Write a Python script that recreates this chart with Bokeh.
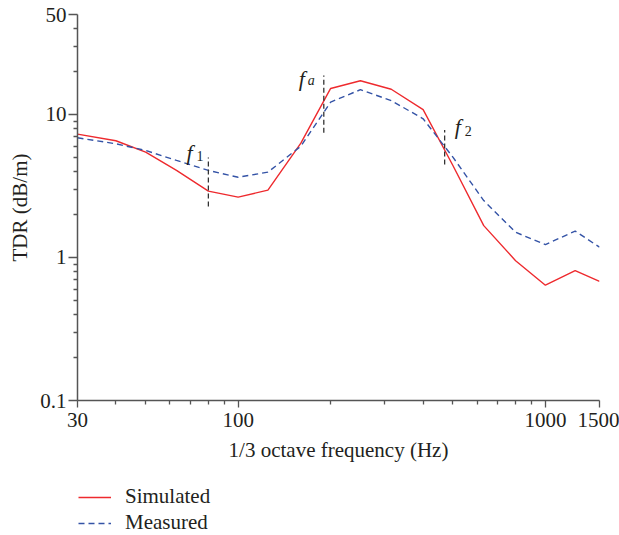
from bokeh.plotting import figure
from bokeh.layouts import column
from bokeh.models import Range1d, FixedTicker, CustomJSTickFormatter, Legend, LegendItem
from bokeh.core.properties import value
from bokeh.embed import file_html
from bokeh.resources import INLINE

freq = [30, 40, 50, 63, 80, 100, 125, 160, 200, 250, 315, 400, 500, 630, 800, 1000, 1250, 1500]
simulated = [7.28, 6.55, 5.45, 4.06, 2.91, 2.64, 2.96, 6.3, 15.2, 17.2, 15.0, 10.8, 4.4, 1.67, 0.95, 0.64, 0.81, 0.68]
measured = [6.87, 6.24, 5.6, 4.77, 4.06, 3.64, 3.95, 6.0, 12.2, 14.9, 12.5, 9.33, 5.03, 2.5, 1.5, 1.23, 1.53, 1.18]

marker_freq = [80, 190, 470]
marker_lo = [2.27, 7.45, 4.47]
marker_hi = [5.0, 18.7, 7.8]
marker_sub = ["1", "a", "2"]

series_names = ["Simulated", "Measured"]

x_ticks = [30, 100, 1000, 1500]
x_minor = [40, 50, 60, 70, 80, 90, 200, 300, 400, 500, 600, 700, 800, 900]
y_ticks = [0.1, 1, 10, 50]
y_minor = [0.2, 0.3, 0.4, 0.5, 0.6, 0.7, 0.8, 0.9, 2, 3, 4, 5, 6, 7, 8, 9, 20, 30, 40]

FONT = "Liberation Serif"
AX = "#555555"
TXT = "#231f20"
RED = "#ee2a2e"
BLUE = "#3453a6"

p = figure(frame_width=522, frame_height=386, x_axis_type="log", y_axis_type="log",
           x_range=Range1d(30, 1500), y_range=Range1d(0.1, 50),
           output_backend="svg", toolbar_location=None,
           min_border_left=77, min_border_right=20, min_border_top=14, min_border_bottom=80)
p.outline_line_color = None
p.xgrid.visible = False
p.ygrid.visible = False

fmt = CustomJSTickFormatter(code="return String(tick);")
for ax, ticks, minor in ((p.xaxis[0], x_ticks, x_minor), (p.yaxis[0], y_ticks, y_minor)):
    ax.ticker = FixedTicker(ticks=ticks, minor_ticks=minor)
    ax.formatter = fmt
    ax.axis_line_color = AX
    ax.axis_line_width = 1.5
    ax.major_tick_line_color = AX
    ax.minor_tick_line_color = AX
    ax.major_tick_line_width = 1.3
    ax.minor_tick_line_width = 1.3
    ax.major_tick_in = 0
    ax.minor_tick_in = 0
    ax.major_label_text_font = FONT
    ax.major_label_text_font_size = "21px"
    ax.major_label_text_color = TXT
    ax.axis_label_text_font = FONT
    ax.axis_label_text_font_style = "normal"
    ax.axis_label_text_color = TXT

p.xaxis.major_tick_out = 7
p.xaxis.minor_tick_out = 4
p.xaxis.major_label_standoff = 5
p.xaxis.axis_label = "1/3 octave frequency (Hz)"
p.xaxis.axis_label_text_font_size = "21px"
p.xaxis.axis_label_standoff = 8
p.yaxis.major_tick_out = 9
p.yaxis.minor_tick_out = 4
p.yaxis.major_label_standoff = 2
p.yaxis.axis_label = "TDR (dB/m)"
p.yaxis.axis_label_text_font_size = "21px"
p.yaxis.axis_label_standoff = 5

p.line(freq, simulated, line_color=RED, line_width=1.4)
p.line(freq, measured, line_color=BLUE, line_width=1.4, line_dash="6 4")

p.segment(x0=marker_freq, y0=marker_lo, x1=marker_freq, y1=marker_hi,
          line_color="#333333", line_width=1.3, line_dash="5 3")

# f labels (italic f with subscripts), pixel offsets from each marker's top
f_dx = [-22, -25, 10]
f_dy = [-5, 3, -3]
s_dx = [-12, -16, 20]
s_dy = [-2, 5, 1]
for i in range(3):
    p.text(x=[marker_freq[i]], y=[marker_hi[i]], text=["f"], x_offset=f_dx[i], y_offset=f_dy[i],
           text_font=value(FONT), text_font_style="italic", text_font_size="22px",
           text_color=TXT, text_baseline="alphabetic", text_align="left")
    p.text(x=[marker_freq[i]], y=[marker_hi[i]], text=[marker_sub[i]], x_offset=s_dx[i], y_offset=s_dy[i],
           text_font=value(FONT), text_font_style="italic" if marker_sub[i] == "a" else "normal",
           text_font_size="14px", text_color=TXT, text_baseline="alphabetic", text_align="left")

# legend in a strip below the chart (proxy lines lie outside this strip's view)
lg = figure(width=619, height=55, output_backend="svg", toolbar_location=None,
            x_range=Range1d(0, 1), y_range=Range1d(0, 1),
            x_axis_location=None, y_axis_location=None,
            min_border_left=0, min_border_right=0, min_border_top=0, min_border_bottom=0)
lg.grid.visible = False
lg.outline_line_color = None
l_sim = lg.line(freq, simulated, line_color=RED, line_width=1.4)
l_mea = lg.line(freq, measured, line_color=BLUE, line_width=1.4, line_dash="6 4")
legend = Legend(items=[LegendItem(label=series_names[0], renderers=[l_sim]),
                       LegendItem(label=series_names[1], renderers=[l_mea])],
                location=(1, 0), orientation="vertical",
                glyph_width=33, glyph_height=20, label_height=20, spacing=1,
                label_standoff=14, padding=0, margin=0,
                border_line_color=None, background_fill_alpha=0,
                label_text_font=FONT, label_text_font_size="21px", label_text_color=TXT)
lg.add_layout(legend, "center")

layout = column(p, lg, spacing=0)
open("out.html", "w").write(file_html(layout, INLINE))
